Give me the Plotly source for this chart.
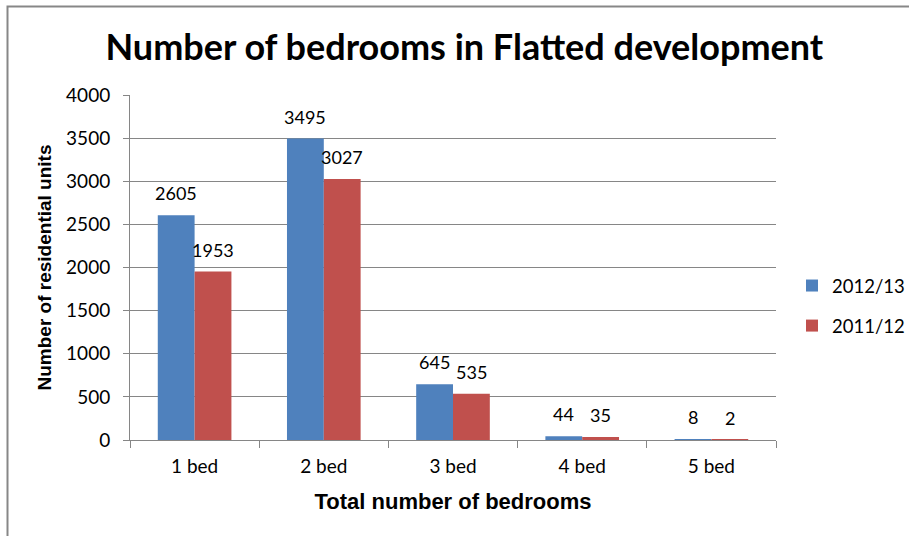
import plotly.graph_objects as go

categories = ["1 bed", "2 bed", "3 bed", "4 bed", "5 bed"]
units_2012_13 = [2605, 3495, 645, 44, 8]
units_2011_12 = [1953, 3027, 535, 35, 2]
series_names = ["2012/13", "2011/12"]
series_colors = ["#4F81BD", "#C0504D"]
y_ticks = [0, 500, 1000, 1500, 2000, 2500, 3000, 3500, 4000]

W, H = 909, 536
L, R, T, B = 130, 776, 95, 440  # plot area in pixels

fig = go.Figure()
for name, vals, col, grp in zip(series_names, [units_2012_13, units_2011_12], series_colors, ["a", "b"]):
    fig.add_trace(go.Bar(
        name=name, x=categories, y=vals, marker=dict(color=col, line=dict(width=0)),
        legendgroup=grp,
    ))

# value labels above each bar
bar_half_offset = 18.5
for vals, shift in [(units_2012_13, -bar_half_offset), (units_2011_12, bar_half_offset)]:
    for c, v in zip(categories, vals):
        fig.add_annotation(
            x=c, y=v, text=str(v), showarrow=False, xshift=shift, yshift=9,
            yanchor="bottom", font=dict(family="Lato", size=18, color="#000000"),
        )

# chart border (top and left edges visible)
px = lambda p: (p - L) / (R - L)
py = lambda p: (B - p) / (B - T)
fig.add_shape(type="rect", xref="paper", yref="paper",
              x0=px(7.5), x1=px(W + 20), y0=py(6.5), y1=py(H + 20),
              line=dict(color="#878787", width=2), fillcolor="rgba(0,0,0,0)", layer="below")

fig.update_layout(
    width=W, height=H, autosize=False,
    margin=dict(l=L, r=W - R, t=T, b=H - B, pad=0, autoexpand=False),
    paper_bgcolor="white", plot_bgcolor="white",
    barmode="group", bargap=0.43, bargroupgap=0,
    title=dict(text="<b>Number of bedrooms in Flatted development</b>",
               x=px(460), xanchor="center", y=1 - 47 / H, yanchor="middle",
               font=dict(family="Lato", size=36, color="#000000")),
    legend=dict(x=px(792), xanchor="left", y=py(306), yanchor="middle",
                font=dict(family="Lato", size=18.5, color="#000000"),
                tracegroupgap=13, bgcolor="rgba(0,0,0,0)"),
    showlegend=True,
)

fig.update_xaxes(
    type="category", showgrid=False, showline=True, linecolor="#868686", linewidth=1,
    ticks="outside", tickson="boundaries", ticklen=7, tickcolor="#868686",
    tickfont=dict(family="Lato", size=19, color="#000000"), ticklabelstandoff=9,
    automargin=False,
    title=dict(text="<b>Total number of bedrooms</b>", standoff=17,
               font=dict(family="Liberation Sans", size=22, color="#000000")),
)
fig.update_yaxes(
    range=[0, 4000], tickvals=y_ticks, showgrid=True, gridcolor="#868686", gridwidth=1,
    showline=True, linecolor="#868686", linewidth=1, zeroline=False,
    ticks="outside", ticklen=6, tickcolor="#868686",
    tickfont=dict(family="Lato", size=19, color="#000000"), ticklabelstandoff=9,
    automargin=False,
    title=dict(text="<b>Number of residential units</b>", standoff=9,
               font=dict(family="Liberation Sans", size=19, color="#000000")),
)

fig.write_html("out.html")
